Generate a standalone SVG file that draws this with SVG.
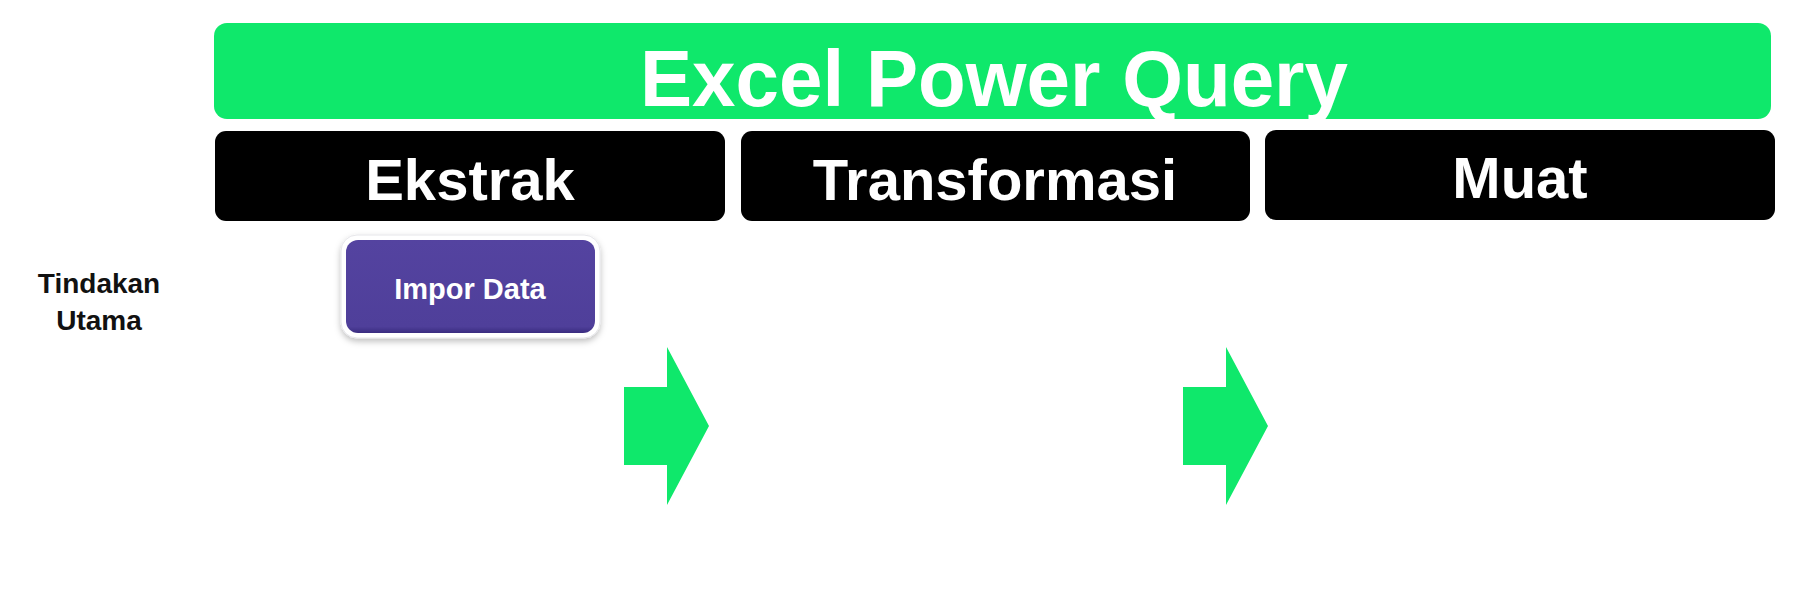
<svg xmlns="http://www.w3.org/2000/svg" width="1808" height="592" viewBox="0 0 1808 592">
  <defs>
    <style>
      .phase { fill: #000000; }
      .phase-text { font-family: "Liberation Sans", Arial, sans-serif; font-weight: bold; font-size: 58px; fill: #ffffff; text-anchor: middle; }
      .title-text { font-family: "Liberation Sans", Arial, sans-serif; font-weight: bold; font-size: 80px; fill: #ffffff; text-anchor: middle; }
      .label { font-family: "Liberation Sans", Arial, sans-serif; font-weight: bold; font-size: 28px; fill: #111111; text-anchor: middle; }
      .btn-text { font-family: "Liberation Sans", Arial, sans-serif; font-weight: bold; font-size: 29px; fill: #ffffff; text-anchor: middle; }
      .flow { fill: #0fe86b; }
    </style>
    <filter id="shadow" x="-20%" y="-20%" width="140%" height="160%">
      <feDropShadow dx="0" dy="3" stdDeviation="3" flood-color="#000000" flood-opacity="0.25"/>
    </filter>
    <linearGradient id="purple" x1="0" y1="0" x2="0" y2="1">
      <stop offset="0" stop-color="#5443a0"/>
      <stop offset="0.93" stop-color="#4f3f9a"/>
      <stop offset="1" stop-color="#3a2c80"/>
    </linearGradient>
  </defs>

  <rect x="0" y="0" width="1808" height="592" fill="#ffffff"/>

  <g id="title">
    <rect x="214" y="23" width="1557" height="96" rx="13" ry="13" fill="#0fe86b"/>
    <text class="title-text" x="994" y="106" textLength="708" lengthAdjust="spacingAndGlyphs">Excel Power Query</text>
  </g>

  <g id="phase-ekstrak">
    <rect class="phase" x="215" y="131" width="510" height="90" rx="11" ry="11"/>
    <text class="phase-text" x="470" y="200">Ekstrak</text>
  </g>

  <g id="phase-transformasi">
    <rect class="phase" x="741" y="131" width="509" height="90" rx="11" ry="11"/>
    <text class="phase-text" x="995" y="200">Transformasi</text>
  </g>

  <g id="phase-muat">
    <rect class="phase" x="1265" y="130" width="510" height="90" rx="11" ry="11"/>
    <text class="phase-text" x="1520" y="198">Muat</text>
  </g>

  <g id="row-label">
    <text class="label" x="99" y="293">Tindakan</text>
    <text class="label" x="99" y="330">Utama</text>
  </g>

  <g id="impor-data">
    <rect x="341" y="235" width="259" height="103" rx="16" ry="16" fill="#ffffff" stroke="#e6e6ea" stroke-width="1" filter="url(#shadow)"/>
    <rect x="346" y="240" width="249" height="93" rx="12" ry="12" fill="url(#purple)"/>
    <text class="btn-text" x="470" y="299">Impor Data</text>
  </g>

  <g id="connectors">
    <polygon class="flow" points="624,387 667,387 667,347 709,426 667,505 667,465 624,465"/>
    <polygon class="flow" points="1183,387 1226,387 1226,347 1268,426 1226,505 1226,465 1183,465"/>
  </g>
</svg>
